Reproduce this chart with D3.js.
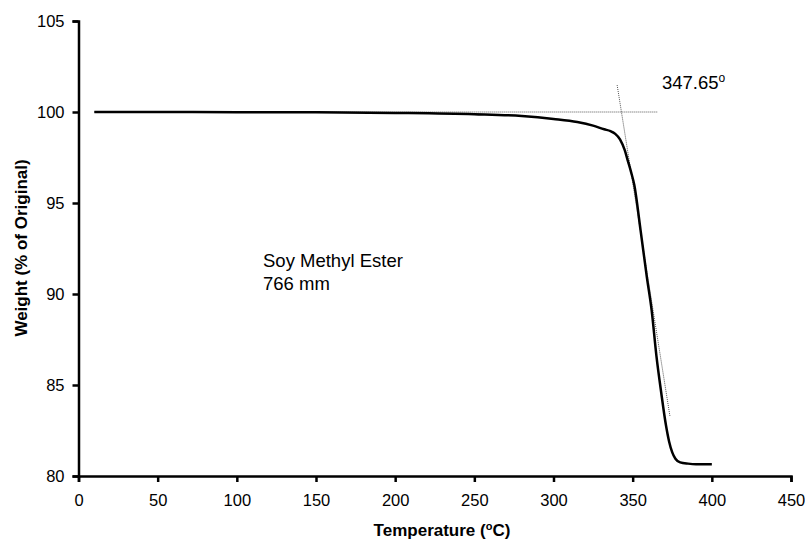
<!DOCTYPE html>
<html>
<head>
<meta charset="utf-8">
<script src="https://cdn.jsdelivr.net/npm/d3@7"></script>
<style>
  body { margin: 0; background: #fff; }
  text { font-family: "Liberation Sans", Arial, sans-serif; fill: #000; }
</style>
</head>
<body>
<div id="my_plot"></div>
<script>
var width = 805, height = 542;

// TGA curve
var temps   = [10, 50, 100, 150, 200, 250, 280, 300, 315, 325, 332, 336, 339, 342, 345, 347, 349, 351, 355, 359, 362, 365, 368, 371, 373, 375, 377, 380, 385, 390, 400];
var weights = [100.0, 100.0, 99.99, 99.98, 99.95, 99.88, 99.78, 99.62, 99.45, 99.25, 99.05, 98.95, 98.8, 98.5, 97.9, 97.3, 96.7, 96.0, 93.5, 90.9, 89.1, 86.6, 84.6, 82.8, 81.9, 81.3, 80.95, 80.75, 80.68, 80.65, 80.65];

// onset construction lines
var baseLineT = [10, 365.5], baseLineW = [100, 100];
var tangentT = [340.2, 373.6], tangentW = [101.48, 83.26];

var xTicks = [0, 50, 100, 150, 200, 250, 300, 350, 400, 450];
var yTicks = [80, 85, 90, 95, 100, 105];

var svg = d3.select("#my_plot")
  .append("svg")
    .attr("width", width)
    .attr("height", height);

var x = d3.scaleLinear().domain([0, 450]).range([78.5, 791]);
var y = d3.scaleLinear().domain([80, 105]).range([476, 21]);

//X-axis
var xAxis = svg.append("g")
  .attr("transform", "translate(0,476)")
  .call(d3.axisBottom(x).tickValues(xTicks).tickSize(6).tickPadding(12).tickFormat(d3.format("d")));
//Y-axis
var yAxis = svg.append("g")
  .attr("transform", "translate(78.5,0)")
  .call(d3.axisLeft(y).tickValues(yTicks).tickSize(6).tickPadding(8).tickFormat(d3.format("d")));

[xAxis, yAxis].forEach(function(g) {
  g.select(".domain").attr("stroke", "#000").attr("stroke-width", 2.5);
  g.selectAll(".tick line").attr("stroke", "#000").attr("stroke-width", 2.5);
  g.selectAll(".tick text")
    .style("font-family", "'Liberation Sans', Arial, sans-serif")
    .style("font-size", "16.5px")
    .attr("fill", "#000");
});

// dotted construction lines
var line = d3.line().x(function(d){ return x(d[0]); }).y(function(d){ return y(d[1]); });
svg.append("path")
  .attr("d", line(d3.zip(baseLineT, baseLineW)))
  .attr("fill", "none")
  .attr("stroke", "#555")
  .attr("stroke-width", 1)
  .attr("stroke-dasharray", "1,1");
svg.append("path")
  .attr("d", line(d3.zip(tangentT, tangentW)))
  .attr("fill", "none")
  .attr("stroke", "#555")
  .attr("stroke-width", 1)
  .attr("stroke-dasharray", "1,1");

// weight curve
svg.append("path")
  .attr("d", line.curve(d3.curveMonotoneX)(d3.zip(temps, weights)))
  .attr("fill", "none")
  .attr("stroke", "#000")
  .attr("stroke-width", 2.5);

// annotations
var onset = svg.append("text")
  .attr("x", 662)
  .attr("y", 89)
  .style("font-size", "18.5px");
onset.append("tspan").text("347.65");
onset.append("tspan").attr("dy", -7).style("font-size", "12px").text("o");

svg.append("text")
  .attr("x", 263)
  .attr("y", 267)
  .style("font-size", "18.5px")
  .text("Soy Methyl Ester");
svg.append("text")
  .attr("x", 263)
  .attr("y", 289.5)
  .style("font-size", "18.5px")
  .text("766 mm");

//X-axis title
var xt = svg.append("text")
  .attr("text-anchor", "middle")
  .attr("x", 442)
  .attr("y", 536)
  .style("font-size", "17px")
  .style("font-weight", "bold");
xt.append("tspan").text("Temperature (");
xt.append("tspan").attr("dy", -6).style("font-size", "11px").text("o");
xt.append("tspan").attr("dy", 6).text("C)");

//Y-axis title
svg.append("text")
  .attr("text-anchor", "middle")
  .attr("transform", "translate(27,248) rotate(-90)")
  .style("font-size", "17px")
  .style("font-weight", "bold")
  .text("Weight (% of Original)");
</script>
</body>
</html>
